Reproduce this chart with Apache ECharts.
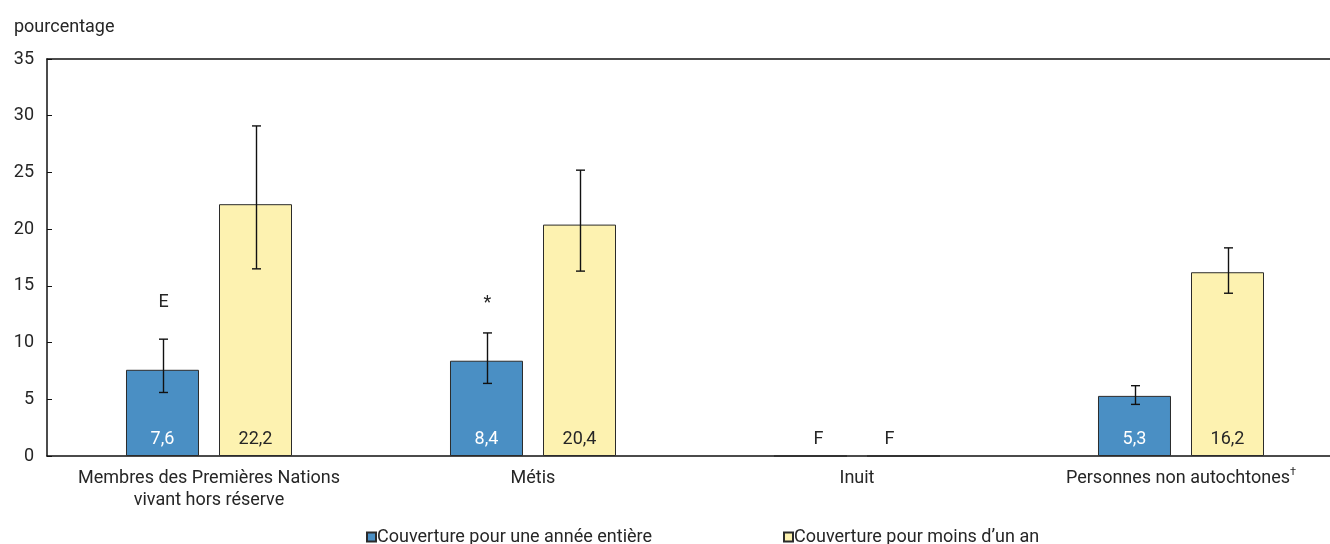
<!DOCTYPE html>
<html>
<head>
<meta charset="utf-8">
<script src="https://cdn.jsdelivr.net/npm/echarts@6/dist/echarts.min.js"></script>
<style>
  html, body { margin: 0; padding: 0; background: #fff; }
  #chart { width: 1330px; height: 544px; }
</style>
</head>
<body>
<div id="chart"></div>
<script>
// Groups along the horizontal axis
const categories = [
  'Membres des Premières Nations\nvivant hors réserve',
  'Métis',
  'Inuit',
  'Personnes non autochtones'
];
// Footnote marks appended to some group names (drawn as superscript)
const categoryMarks = ['', '', '', '\u2020'];
const seriesNames = ['Couverture pour une année entière', 'Couverture pour moins d\u2019un an'];

// Percentages (0 where the estimate is suppressed, shown as "F")
const fullYear = [7.6, 8.4, 0, 5.3];
const lessThanYear = [22.2, 20.4, 0, 16.2];
const fullYearShown = ['7,6', '8,4', 'F', '5,3'];
const lessThanYearShown = ['22,2', '20,4', 'F', '16,2'];

// 95% confidence intervals [low, high]; null where none is drawn
const fullYearCI = [[5.6, 10.3], [6.4, 10.85], null, [4.55, 6.2]];
const lessThanYearCI = [[16.5, 29.1], [16.3, 25.2], null, [14.35, 18.35]];

// Quality notes written above the whiskers
const fullYearNotes = ['E', '*', '', ''];
const lessThanYearNotes = ['', '', '', ''];

const yTicks = [0, 5, 10, 15, 20, 25, 30, 35];

const FONT = 'Roboto, "Liberation Sans", sans-serif';
const FS = 18;
const TXT = '#262626';
const BAR_W = 73;
const BAR_GAP_PX = 20;
const SHIFT = (BAR_W + BAR_GAP_PX) / 2;
// the asterisk glyph sits high in its box, so it needs less lift than a letter
const NOTE_LIFT = { 'E': 37, '*': 29 };

function errorSeries(ci, notes, dir) {
  const data = [];
  ci.forEach((c, i) => { if (c) data.push([i, c[0], c[1]]); });
  return {
    type: 'custom',
    silent: true,
    z: 5,
    data: data,
    renderItem: function (params, api) {
      const idx = api.value(0);
      const lo = api.coord([idx, api.value(1)]);
      const hi = api.coord([idx, api.value(2)]);
      const x = Math.round(lo[0] + dir * SHIFT) + 0.5;
      const cap = 4.5;
      const st = { stroke: '#111', lineWidth: 1.4 };
      const children = [
        { type: 'line', shape: { x1: x, y1: hi[1], x2: x, y2: lo[1] }, style: st },
        { type: 'line', shape: { x1: x - cap, y1: hi[1], x2: x + cap, y2: hi[1] }, style: st },
        { type: 'line', shape: { x1: x - cap, y1: lo[1], x2: x + cap, y2: lo[1] }, style: st }
      ];
      const note = notes[idx];
      if (note) {
        children.push({
          type: 'text',
          style: {
            text: note, x: x, y: hi[1] - (NOTE_LIFT[note] || 34),
            align: 'center', verticalAlign: 'middle',
            font: FS + 'px ' + FONT, fill: TXT
          }
        });
      }
      return { type: 'group', children: children };
    }
  };
}

const chart = echarts.init(document.getElementById('chart'), null, { renderer: 'canvas' });

chart.setOption({
  animation: false,
  backgroundColor: '#fff',
  textStyle: { fontFamily: FONT },
  title: {
    text: 'pourcentage',
    left: 9, top: 13,
    textStyle: { fontFamily: FONT, fontSize: FS, fontWeight: 'normal', color: TXT }
  },
  // the plot runs a little past the right edge of the canvas
  grid: {
    left: 47, width: 1296, top: 59, bottom: 88,
    containLabel: false, outerBoundsMode: 'none'
  },
  legend: [
    {
      data: [seriesNames[0]],
      left: 361, top: 523,
      itemWidth: 9, itemHeight: 9, icon: 'rect',
      textStyle: { fontFamily: FONT, fontSize: FS, color: TXT, padding: [0, 0, 0, -4] }
    },
    {
      data: [seriesNames[1]],
      left: 778, top: 523,
      itemWidth: 9, itemHeight: 9, icon: 'rect',
      textStyle: { fontFamily: FONT, fontSize: FS, color: TXT, padding: [0, 0, 0, -4] }
    }
  ],
  xAxis: [
    {
      type: 'category',
      data: categories,
      axisLine: { lineStyle: { color: '#111', width: 1.5 } },
      axisTick: { show: false },
      axisLabel: {
        color: TXT, fontSize: FS, fontFamily: FONT,
        margin: 11, lineHeight: 22, interval: 0,
        formatter: (v, i) => categoryMarks[i] ? v + '{sup|' + categoryMarks[i] + '}' : v,
        rich: {
          sup: { fontSize: 11, verticalAlign: 'top', padding: [0, 0, 8, 0], color: TXT, fontFamily: FONT }
        }
      }
    },
    {
      type: 'category',
      data: categories,
      position: 'top',
      axisLine: { show: true, onZero: false, lineStyle: { color: '#111', width: 1.5 } },
      axisTick: { show: false },
      axisLabel: { show: false }
    }
  ],
  yAxis: {
    type: 'value',
    min: yTicks[0], max: yTicks[yTicks.length - 1], interval: 5,
    axisLine: { show: true, lineStyle: { color: '#111', width: 1.5 } },
    axisTick: { show: true, inside: true, length: 5, lineStyle: { color: '#111' } },
    splitLine: { show: false },
    axisLabel: { color: TXT, fontSize: FS, fontFamily: FONT, margin: 13 }
  },
  series: [
    {
      name: seriesNames[0],
      type: 'bar',
      data: fullYear.map((v, i) => fullYearShown[i] === 'F'
        ? { value: v, label: { color: TXT, offset: [8, 0] } }
        : v),
      barWidth: BAR_W,
      barGap: (BAR_GAP_PX / BAR_W * 100).toFixed(1) + '%',
      itemStyle: { color: '#4a8fc4', borderColor: '#2b2b2b', borderWidth: 1 },
      label: {
        show: true, position: 'insideBottom', distance: 8,
        formatter: p => fullYearShown[p.dataIndex],
        fontFamily: FONT, fontSize: FS, color: '#fff'
      }
    },
    {
      name: seriesNames[1],
      type: 'bar',
      data: lessThanYear.map((v, i) => lessThanYearShown[i] === 'F'
        ? { value: v, label: { offset: [-14, 0] } }
        : v),
      barWidth: BAR_W,
      itemStyle: { color: '#fdf2b0', borderColor: '#2b2b2b', borderWidth: 1 },
      label: {
        show: true, position: 'insideBottom', distance: 8,
        formatter: p => lessThanYearShown[p.dataIndex],
        fontFamily: FONT, fontSize: FS, color: TXT
      }
    },
    errorSeries(fullYearCI, fullYearNotes, -1),
    errorSeries(lessThanYearCI, lessThanYearNotes, 1)
  ]
});
</script>
</body>
</html>
